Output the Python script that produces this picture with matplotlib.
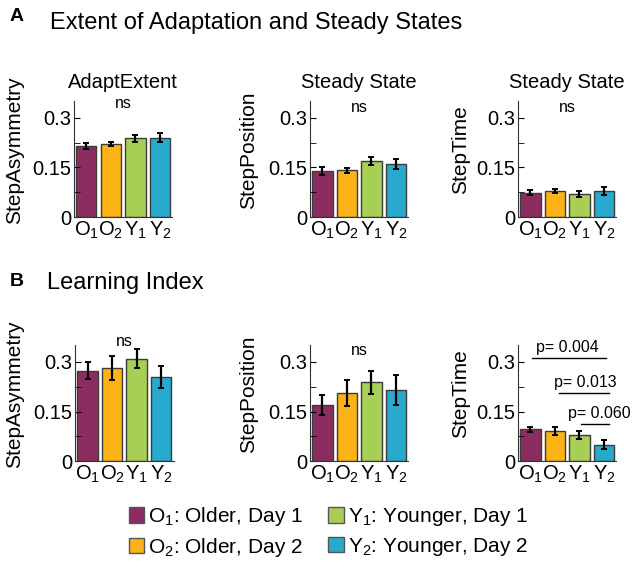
import numpy as np
import matplotlib
matplotlib.use("Agg")
import matplotlib.pyplot as plt
from matplotlib.patches import Patch

plt.rcParams['font.family'] = ['Liberation Sans', 'DejaVu Sans']
plt.rcParams['mathtext.default'] = 'regular'

groups = [r'O$_1$', r'O$_2$', r'Y$_1$', r'Y$_2$']
legend_labels = [r'O$_1$: Older, Day 1', r'O$_2$: Older, Day 2',
                 r'Y$_1$: Younger, Day 1', r'Y$_2$: Younger, Day 2']
colors = ['#8c2d62', '#fbb318', '#a8cf55', '#27aacd']

# panel A: extent of adaptation and steady states
adapt_asym = [0.215, 0.221, 0.238, 0.240]
adapt_asym_err = [0.010, 0.007, 0.010, 0.013]
ss_pos = [0.140, 0.141, 0.169, 0.160]
ss_pos_err = [0.012, 0.008, 0.012, 0.015]
ss_time = [0.074, 0.078, 0.070, 0.078]
ss_time_err = [0.008, 0.006, 0.008, 0.012]

# panel B: learning index
li_asym = [0.274, 0.282, 0.310, 0.255]
li_asym_err = [0.026, 0.036, 0.028, 0.034]
li_pos = [0.170, 0.207, 0.238, 0.215]
li_pos_err = [0.031, 0.039, 0.035, 0.045]
li_time = [0.096, 0.092, 0.079, 0.050]
li_time_err = [0.008, 0.012, 0.012, 0.013]

# pairwise comparisons for learning index step time
pvals = ['p= 0.004', 'p= 0.013', 'p= 0.060']
p_line_y = [0.311, 0.205, 0.111]
p_line_x = [(1.05, 4.08), (2.16, 4.22), (3.07, 4.22)]
p_text_x = [2.52, 3.25, 3.81]
p_text_y = [0.331, 0.225, 0.129]

fig = plt.figure(figsize=(6.38, 5.72), dpi=100)

panels = [
    # left, bottom, values, errors, ylabel, title, ns y, label x
    (0.116, 0.6206, adapt_asym, adapt_asym_err, 'StepAsymmetry', 'AdaptExtent', 0.344, -0.51),
    (0.486, 0.6206, ss_pos, ss_pos_err, 'StepPosition', 'Steady State', 0.333, -0.53),
    (0.812, 0.6206, ss_time, ss_time_err, 'StepTime', 'Steady State', 0.333, -0.485),
    (0.118, 0.194, li_asym, li_asym_err, 'StepAsymmetry', None, 0.362, -0.52),
    (0.486, 0.194, li_pos, li_pos_err, 'StepPosition', None, 0.336, -0.53),
    (0.812, 0.194, li_time, li_time_err, 'StepTime', None, None, -0.485),
]

x = np.arange(1, 5)
axes = []
for left, bottom, vals, errs, ylab, title, ns_y, lab_x in panels:
    ax = fig.add_axes([left, bottom, 0.154, 0.202])
    ax.bar(x, vals, width=0.83, color=colors, edgecolor='#3c3c3c', linewidth=1.0)
    ax.errorbar(x, vals, yerr=errs, fmt='none', ecolor='black', elinewidth=1.6,
                capsize=2, capthick=1.4)
    ax.set_xlim(0.5, 4.5)
    ax.set_ylim(0, 0.35)
    ax.set_yticks([0, 0.15, 0.3])
    ax.set_yticklabels(['0', '0.15', '0.3'])
    ax.set_yticks([0.075, 0.225], minor=True)
    ax.set_xticks(x)
    ax.set_xticklabels(groups)
    ax.tick_params(axis='y', which='both', direction='in', length=4, labelsize=14.5, pad=2)
    ax.tick_params(axis='x', direction='in', length=0, labelsize=14.5, pad=2)
    for s in ['top', 'right']:
        ax.spines[s].set_visible(False)
    for s in ['left', 'bottom']:
        ax.spines[s].set_color('#333333')
    ax.set_ylabel(ylab, fontsize=15)
    ax.yaxis.set_label_coords(lab_x, 0.58)
    if title:
        ax.set_title(title, fontsize=14.5, pad=10)
    if ns_y is not None:
        ax.text(2.5, ns_y, 'ns', ha='center', va='center', fontsize=11.5, clip_on=False)
    axes.append(ax)

ax = axes[5]
for lab, ly, (x0, x1), tx, ty in zip(pvals, p_line_y, p_line_x, p_text_x, p_text_y):
    ax.plot([x0, x1], [ly, ly], color='black', linewidth=1.0, clip_on=False)
    ax.text(tx, ty, lab, ha='center', va='baseline', fontsize=11.5, clip_on=False)

fig.text(0.026, 0.971, 'A', fontsize=14, fontweight='bold', ha='center', va='center')
fig.text(0.078, 0.949, 'Extent of Adaptation and Steady States', fontsize=17, va='baseline')
fig.text(0.027, 0.508, 'B', fontsize=14, fontweight='bold', ha='center', va='center')
fig.text(0.073, 0.4947, 'Learning Index', fontsize=17, va='baseline')

handles = [Patch(facecolor=c, edgecolor='#555555') for c in colors]
fig.legend(handles, legend_labels, loc='center', bbox_to_anchor=(0.515, 0.07), ncol=2,
           frameon=False, fontsize=15, handlelength=0.75, handleheight=0.75,
           handletextpad=0.2, columnspacing=1.2, labelspacing=0.35)

fig.savefig('out.png', dpi=100)
